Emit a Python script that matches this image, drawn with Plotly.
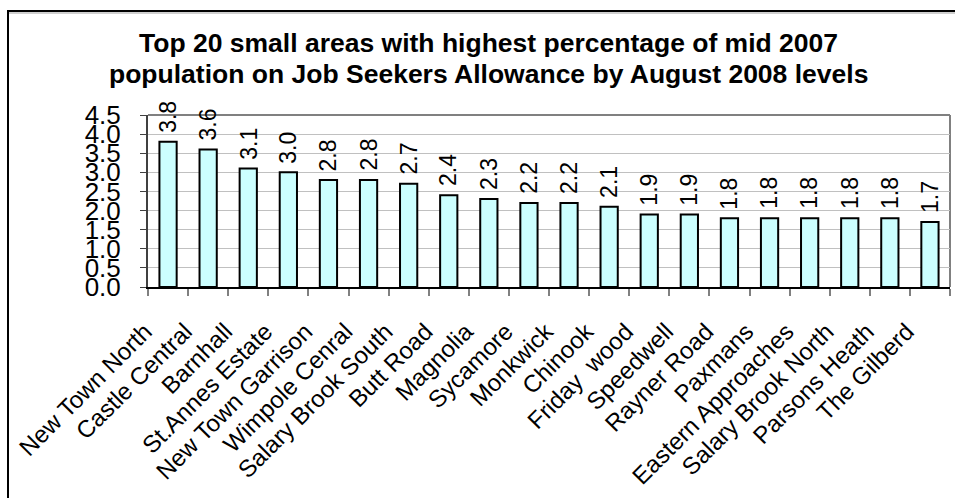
import plotly.graph_objects as go

# Small areas ranked by share of mid-2007 population claiming JSA (Aug 2008)
areas = [
    "New Town North", "Castle Central", "Barnhall", "St.Annes Estate",
    "New Town Garrison", "Wimpole Cenral", "Salary Brook South", "Butt Road",
    "Magnolia", "Sycamore", "Monkwick", "Chinook", "Friday\u00a0 wood",
    "Speedwell", "Rayner Road", "Paxmans", "Eastern Approaches",
    "Salary Brook North", "Parsons Heath", "The Gilberd",
]
jsa_pct = [3.8, 3.6, 3.1, 3.0, 2.8, 2.8, 2.7, 2.4, 2.3, 2.2,
           2.2, 2.1, 1.9, 1.9, 1.8, 1.8, 1.8, 1.8, 1.8, 1.7]
y_ticks = [0.0, 0.5, 1.0, 1.5, 2.0, 2.5, 3.0, 3.5, 4.0, 4.5]
title_lines = [
    "Top 20 small areas with highest percentage of mid 2007",
    "population on Job Seekers Allowance by August 2008 levels",
]

W, H = 955, 498
L, R, T, B = 148, 950, 115, 287  # plot area in pixels


def px_x(x):
    return (x - L) / (R - L)


def px_y(y):
    return (B - y) / (B - T)


FONT = "Liberation Sans, Arial, sans-serif"

fig = go.Figure(
    go.Bar(
        x=areas,
        y=jsa_pct,
        marker=dict(color="#CCFFFF", line=dict(color="black", width=2)),
        hoverinfo="x+y",
    )
)

# value labels, rotated, sitting just above each bar
value_labels = [
    dict(
        x=a, y=v, xref="x", yref="y",
        text=f"{v:.1f}",
        textangle=-90,
        xanchor="center", yanchor="bottom",
        yshift=7,
        showarrow=False,
        font=dict(family=FONT, size=23, color="black"),
    )
    for a, v in zip(areas, jsa_pct)
]

title_labels = [
    dict(
        text=line,
        xref="paper", yref="paper",
        x=px_x(488), y=px_y(cy),
        xanchor="center", yanchor="middle",
        showarrow=False,
        font=dict(family=FONT, size=26.5, color="black", weight="bold"),
    )
    for line, cy in zip(title_lines, [43, 74])
]

fig.update_layout(
    width=W,
    height=H,
    margin=dict(l=L, r=W - R, t=T, b=H - B, pad=0, autoexpand=False),
    paper_bgcolor="white",
    plot_bgcolor="white",
    showlegend=False,
    bargap=0.57,
    font=dict(family=FONT, color="black"),
    xaxis=dict(
        type="category",
        automargin=False,
        tickangle=-45,
        tickfont=dict(family=FONT, size=24, color="black"),
        ticks="outside",
        tickson="boundaries",
        ticklen=7,
        tickcolor="#808080",
        tickwidth=2,
        ticklabelshift=-23,
        ticklabelstandoff=19,
        showline=True,
        linecolor="black",
        linewidth=2,
        showgrid=False,
        range=[-0.5, len(areas) - 0.5],
    ),
    yaxis=dict(
        automargin=False,
        range=[0, 4.5],
        tickvals=y_ticks,
        ticktext=[f"{v:.1f}" for v in y_ticks],
        tickfont=dict(family=FONT, size=26, color="black"),
        ticks="outside",
        ticklen=6,
        tickcolor="#404040",
        tickwidth=1,
        ticklabelstandoff=14,
        showline=True,
        linecolor="#404040",
        linewidth=2,
        showgrid=True,
        gridcolor="#C0C0C0",
        gridwidth=1,
        zeroline=False,
    ),
    shapes=[
        # plot-area frame (top and right edges)
        dict(type="line", xref="paper", yref="paper",
             x0=0, x1=1, y0=1, y1=1,
             line=dict(color="#808080", width=2), layer="below"),
        dict(type="line", xref="paper", yref="paper",
             x0=1, x1=1, y0=0, y1=1,
             line=dict(color="#808080", width=2), layer="below"),
        # chart border
        dict(type="rect", xref="paper", yref="paper",
             x0=px_x(8), x1=px_x(975), y0=px_y(11), y1=px_y(520),
             line=dict(color="black", width=2), layer="above"),
        dict(type="line", xref="paper", yref="paper",
             x0=px_x(9), x1=px_x(975), y0=px_y(13), y1=px_y(13),
             line=dict(color="#A0A0A0", width=1), layer="above"),
    ],
    annotations=title_labels + value_labels,
)

fig.write_html("out.html")
